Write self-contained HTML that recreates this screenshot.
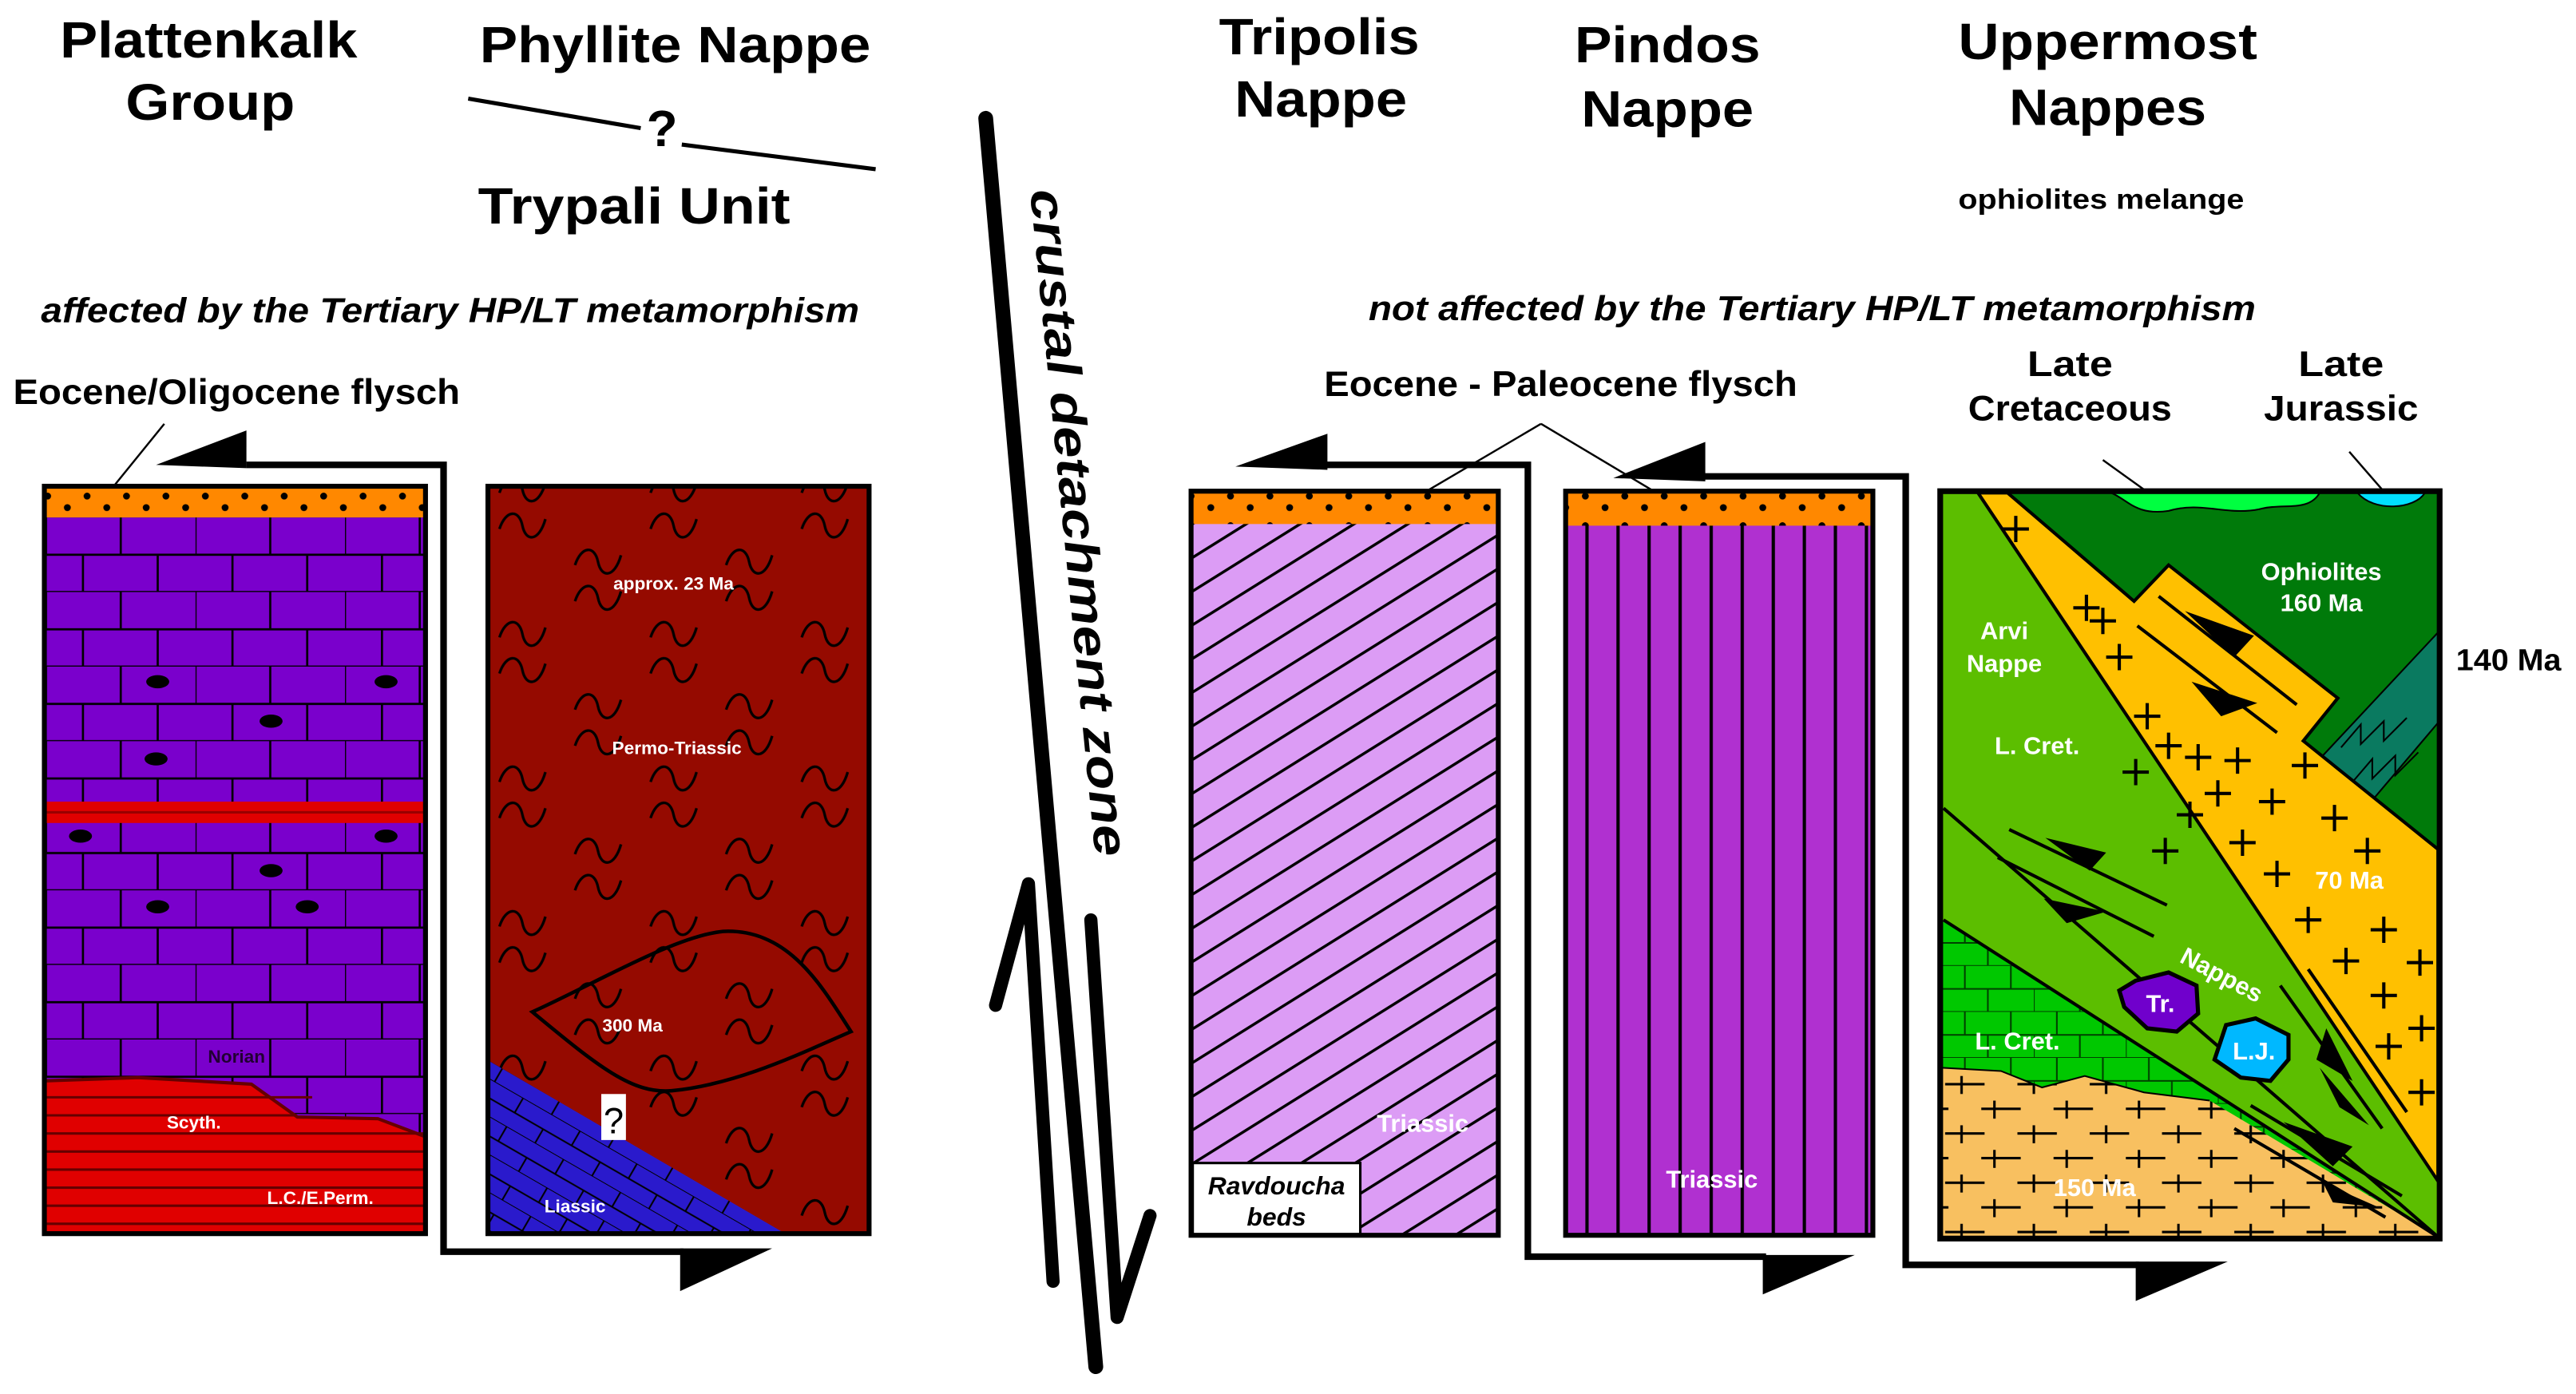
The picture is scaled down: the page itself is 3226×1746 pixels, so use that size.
<!DOCTYPE html>
<html><head><meta charset="utf-8"><style>html,body{margin:0;padding:0;background:#fff}svg{display:block}</style></head>
<body>
<svg width="3226" height="1746" viewBox="0 0 1568 848.6" xmlns="http://www.w3.org/2000/svg" font-family="Liberation Sans, sans-serif">
<defs>
<pattern id="dots" width="24" height="18" patternUnits="userSpaceOnUse" x="0" y="297">
<rect width="24" height="18" fill="#ff8800"/>
<circle cx="5" cy="5" r="2.1" fill="#000"/><circle cx="17" cy="12" r="2.1" fill="#000"/>
</pattern>
<pattern id="brick" width="91" height="45.4" patternUnits="userSpaceOnUse" x="28" y="315">
<rect width="91" height="45.4" fill="#7a00cc"/>
<path d="M0 22.7H91M0 45.4H91M45.5 0V22.7M0 0V22.7M68 22.7V45.4M22.5 22.7V45.4" stroke="#000" stroke-width="1.3"/>
</pattern>
<pattern id="gbrick" width="56" height="28" patternUnits="userSpaceOnUse" x="1182" y="560">
<rect width="56" height="28" fill="#00c800"/>
<path d="M0 14H56M0 28H56M14 0V14M42 0V14M28 14V28M0 14V28" stroke="#004000" stroke-width="1"/>
</pattern>
<pattern id="bbrick" width="40" height="20" patternUnits="userSpaceOnUse" patternTransform="rotate(30)">
<rect width="40" height="20" fill="#2a1acc"/>
<path d="M0 10H40M0 20H40M10 0V10M30 10V20" stroke="#000" stroke-width="1"/>
</pattern>
<pattern id="tilde" width="92" height="88" patternUnits="userSpaceOnUse" x="300" y="300">
<rect width="92" height="88" fill="#950a00"/>
<path d="M4 22 C8 10,16 10,18 20 S28 30,32 16" fill="none" stroke="#000" stroke-width="1.6"/>
<path d="M50 66 C54 54,62 54,64 64 S74 74,78 60" fill="none" stroke="#000" stroke-width="1.6"/>
</pattern>
<pattern id="tilde2" width="92" height="88" patternUnits="userSpaceOnUse" x="346" y="322">
<path d="M4 22 C8 10,16 10,18 20 S28 30,32 16" fill="none" stroke="#000" stroke-width="1.6"/>
<path d="M50 66 C54 54,62 54,64 64 S74 74,78 60" fill="none" stroke="#000" stroke-width="1.6"/>
</pattern>
<pattern id="hatch" width="20" height="20.5" patternUnits="userSpaceOnUse" patternTransform="skewY(-32)" x="726" y="300">
<rect width="20" height="20.5" fill="#dc9cf5"/>
<path d="M0 1H20" stroke="#000" stroke-width="2"/>
</pattern>
<pattern id="vlines" width="18.9" height="20" patternUnits="userSpaceOnUse" x="955" y="0">
<rect width="18.9" height="20" fill="#b030d0"/>
<path d="M11 0V20" stroke="#000" stroke-width="2"/>
</pattern>
<pattern id="tanplus" width="44" height="30" patternUnits="userSpaceOnUse" x="1182" y="652">
<rect width="44" height="30" fill="#f8c060"/>
<path d="M2 8H26M12 3V14M24 23H44M32 18V29M0 23H4" stroke="#000" stroke-width="1.5"/>
</pattern>
</defs>

<g font-weight="bold" font-size="31" text-anchor="middle" fill="#000" lengthAdjust="spacingAndGlyphs">
<text x="127" y="35" textLength="181" lengthAdjust="spacingAndGlyphs">Plattenkalk</text>
<text x="128" y="73" textLength="103" lengthAdjust="spacingAndGlyphs">Group</text>
<text x="411" y="38" textLength="238" lengthAdjust="spacingAndGlyphs">Phyllite Nappe</text>
<text x="386" y="136" textLength="190" lengthAdjust="spacingAndGlyphs">Trypali Unit</text>
<text x="403" y="89">?</text>
<text x="803" y="33" textLength="122" lengthAdjust="spacingAndGlyphs">Tripolis</text>
<text x="804" y="71" textLength="105" lengthAdjust="spacingAndGlyphs">Nappe</text>
<text x="1015" y="38" textLength="113" lengthAdjust="spacingAndGlyphs">Pindos</text>
<text x="1015" y="77" textLength="105" lengthAdjust="spacingAndGlyphs">Nappe</text>
<text x="1283" y="36" textLength="182" lengthAdjust="spacingAndGlyphs">Uppermost</text>
<text x="1283" y="76" textLength="120" lengthAdjust="spacingAndGlyphs">Nappes</text>
</g>
<path d="M285 60 L390 78 M415 88 L533 103" stroke="#000" stroke-width="2.5"/>
<g font-weight="bold" font-style="italic" font-size="21" text-anchor="middle">
<text x="274" y="196" textLength="498" lengthAdjust="spacingAndGlyphs">affected by the Tertiary HP/LT metamorphism</text>
<text x="1103" y="195" textLength="540" lengthAdjust="spacingAndGlyphs">not affected by the Tertiary HP/LT metamorphism</text>
</g>
<g font-weight="bold" font-size="21.5" text-anchor="middle">
<text x="144" y="246" textLength="272" lengthAdjust="spacingAndGlyphs">Eocene/Oligocene flysch</text>
<text x="950" y="241" textLength="288" lengthAdjust="spacingAndGlyphs">Eocene - Paleocene flysch</text>
<text x="1260" y="229" textLength="52" lengthAdjust="spacingAndGlyphs">Late</text><text x="1260" y="256" textLength="124" lengthAdjust="spacingAndGlyphs">Cretaceous</text>
<text x="1425" y="229" textLength="52" lengthAdjust="spacingAndGlyphs">Late</text><text x="1425" y="256" textLength="94" lengthAdjust="spacingAndGlyphs">Jurassic</text>
</g>
<text x="1279" y="127" font-weight="bold" font-size="17" text-anchor="middle" textLength="174" lengthAdjust="spacingAndGlyphs">ophiolites melange</text>
<text x="1527" y="408" font-weight="bold" font-size="18.5" text-anchor="middle" textLength="64" lengthAdjust="spacingAndGlyphs">140 Ma</text>
<path d="M100 258 L70 295 M938 258 L870 298 M938 258 L1005 298 M1280 280 L1305 298 M1430 275 L1450 298" stroke="#000" stroke-width="1.2" fill="none"/>

<path d="M150 283 H270 V762 H416" stroke="#000" stroke-width="4" fill="none"/>
<polygon points="95,283 150,262 150,285" fill="#000"/>
<polygon points="414,760 470,760 414,786" fill="#000"/>

<rect x="27" y="296" width="232" height="455" fill="url(#brick)"/>
<rect x="27" y="296" width="232" height="19" fill="url(#dots)"/>
<rect x="27" y="488" width="232" height="13" fill="#e00000"/>
<path d="M27 494.5H259" stroke="#900" stroke-width="1.5"/>
<polygon points="27,658 84,656 153,660 181,680 230,681 259,692 259,751 27,751" fill="#e00000"/>
<polyline points="27,658 84,656 153,660 181,680 230,681 259,692" fill="none" stroke="#600" stroke-width="2"/>
<g stroke="#600" stroke-width="1.5">
<path d="M27 668H190 M27 679H180 M27 690H259 M27 701H259 M27 712H259 M27 723H259 M27 734H259 M27 745H259"/>
</g>
<g fill="#000">
<ellipse cx="96" cy="415" rx="7" ry="4"/><ellipse cx="235" cy="415" rx="7" ry="4"/>
<ellipse cx="165" cy="439" rx="7" ry="4"/><ellipse cx="95" cy="462" rx="7" ry="4"/>
<ellipse cx="49" cy="509" rx="7" ry="4"/><ellipse cx="235" cy="509" rx="7" ry="4"/>
<ellipse cx="165" cy="530" rx="7" ry="4"/><ellipse cx="96" cy="552" rx="7" ry="4"/>
<ellipse cx="187" cy="552" rx="7" ry="4"/>
</g>
<rect x="27" y="296" width="232" height="455" fill="none" stroke="#000" stroke-width="3"/>
<g font-weight="bold" font-size="11" text-anchor="middle">
<text x="144" y="647" fill="#220033">Norian</text>
<text x="118" y="687" fill="#fff">Scyth.</text>
<text x="195" y="733" fill="#fff">L.C./E.Perm.</text>
</g>

<rect x="297" y="296" width="232" height="455" fill="url(#tilde)"/>
<rect x="297" y="296" width="232" height="455" fill="url(#tilde2)"/>
<polygon points="298,646 478,751 298,751" fill="url(#bbrick)"/>
<path d="M324 616 C360 600,410 570,440 567 C480 565,500 600,518 628 C490 640,450 660,409 664 C385 666,365 650,324 616Z" fill="none" stroke="#000" stroke-width="2.2"/>
<rect x="366" y="666" width="15" height="28" fill="#fff"/>
<text x="373.5" y="690" font-size="22" text-anchor="middle">?</text>
<rect x="297" y="296" width="232" height="455" fill="none" stroke="#000" stroke-width="3"/>
<g font-weight="bold" font-size="11" text-anchor="middle" fill="#fff">
<text x="410" y="359">approx. 23 Ma</text>
<text x="412" y="459">Permo-Triassic</text>
<text x="385" y="628">300 Ma</text>
<text x="350" y="738">Liassic</text>
</g>

<path d="M600 72 L667 832" stroke="#000" stroke-width="9" stroke-linecap="round"/>
<path d="M641 780 L626 538 L606 612" stroke="#000" stroke-width="8" fill="none" stroke-linejoin="round" stroke-linecap="round"/>
<path d="M664 560 L680 802 L700 740" stroke="#000" stroke-width="8" fill="none" stroke-linejoin="round" stroke-linecap="round"/>
<text transform="translate(627,116) rotate(84.4)" font-weight="bold" font-style="italic" font-size="29" textLength="408" lengthAdjust="spacingAndGlyphs">crustal detachment zone</text>

<path d="M806 283 H930 V765 H1075" stroke="#000" stroke-width="4" fill="none"/>
<polygon points="752,284 808,264 808,286" fill="#000"/>
<polygon points="1073,764 1129,764 1073,788" fill="#000"/>
<path d="M1035 290 H1160 V770 H1302" stroke="#000" stroke-width="4" fill="none"/>
<polygon points="982,291 1038,269 1038,293" fill="#000"/>
<polygon points="1300,768 1356,768 1300,792" fill="#000"/>

<rect x="725" y="299" width="187" height="453" fill="url(#hatch)"/>
<rect x="725" y="299" width="187" height="20" fill="url(#dots)"/>
<rect x="726" y="708" width="102" height="44" fill="#fff" stroke="#000" stroke-width="1.5"/>
<rect x="725" y="299" width="187" height="453" fill="none" stroke="#000" stroke-width="3"/>
<g font-weight="bold" font-style="italic" font-size="15.5" text-anchor="middle">
<text x="777" y="727">Ravdoucha</text><text x="777" y="746">beds</text>
</g>
<text x="866" y="689" font-weight="bold" font-size="15" fill="#fff" text-anchor="middle">Triassic</text>

<rect x="953" y="299" width="187" height="453" fill="url(#vlines)"/>
<rect x="953" y="299" width="187" height="21" fill="url(#dots)"/>
<rect x="953" y="299" width="187" height="453" fill="none" stroke="#000" stroke-width="3"/>
<text x="1042" y="723" font-weight="bold" font-size="15" fill="#fff" text-anchor="middle">Triassic</text>

<rect x="1181" y="299" width="304" height="455" fill="#5cbe00"/>
<polygon points="1222,300 1484,300 1484,517 1402,451 1423,425 1320,344 1299,366" fill="#007a0a"/>
<polygon points="1412,462 1484,385 1484,440 1445,486" fill="#0a7a60" stroke="#000" stroke-width="1"/>
<path d="M1425 455 l12 -14 l0 12 l14 -14 l0 12 l14 -14 M1432 476 l12 -14 l0 12 l14 -14 l0 12 l14 -14" stroke="#000" stroke-width="1" fill="none"/>
<path d="M1285 300 H1412 C1405 312,1390 306,1375 310 C1355 314,1340 305,1320 311 C1300 314,1295 304,1285 300Z" fill="#00ff40" stroke="#000" stroke-width="1"/>
<path d="M1435 300 H1476 C1470 310,1445 312,1435 300Z" fill="#00e0ff" stroke="#000" stroke-width="1"/>
<polygon points="1204,300 1222,300 1299,366 1320,344 1423,425 1402,451 1484,517 1484,719" fill="#ffc000" stroke="#000" stroke-width="2"/>
<polygon points="1182,560 1484,753 1182,753" fill="url(#gbrick)"/>
<polygon points="1182,650 1218,652 1243,662 1269,655 1305,665 1345,670 1484,753 1182,753" fill="url(#tanplus)"/>
<polyline points="1182,650 1218,652 1243,662 1269,655 1305,665 1345,670" fill="none" stroke="#000" stroke-width="1"/>
<path d="M1183 492 L1484 753 M1183 560 L1484 753" stroke="#000" stroke-width="2"/>
<g stroke="#000" stroke-width="2" fill="none">
<path d="M1227 314v16m-8-8h16 M1270 362v16m-8-8h16 M1290 392v16m-8-8h16 M1307 428v16m-8-8h16 M1320 446v16m-8-8h16 M1300 462v16m-8-8h16 M1338 453v16m-8-8h16 M1350 475v16m-8-8h16 M1333 488v16m-8-8h16 M1362 455v16m-8-8h16 M1383 480v16m-8-8h16 M1403 458v16m-8-8h16 M1318 510v16m-8-8h16 M1365 505v16m-8-8h16 M1421 490v16m-8-8h16 M1386 524v16m-8-8h16 M1441 510v16m-8-8h16 M1405 552v16m-8-8h16 M1451 558v16m-8-8h16 M1428 577v16m-8-8h16 M1473 578v16m-8-8h16 M1451 598v16m-8-8h16 M1474 618v16m-8-8h16 M1454 629v16m-8-8h16 M1474 657v16m-8-8h16 M1280 370v16m-8-8h16"/>
</g>
<g stroke="#000" stroke-width="2">
<path d="M1314 363 L1398 429 M1301 381 L1386 446 M1223 505 L1319 551 M1216 522 L1311 570 M1388 600 L1450 687 M1405 590 L1465 677 M1370 673 L1462 728 M1360 687 L1452 741"/>
</g>
<g fill="#000">
<polygon points="1330,372 1372,387 1360,400"/>
<polygon points="1334,415 1374,428 1352,436"/>
<polygon points="1245,510 1282,519 1272,530"/>
<polygon points="1244,547 1282,555 1258,562"/>
<polygon points="1416,626 1432,658 1410,645"/>
<polygon points="1412,650 1442,685 1424,674"/>
<polygon points="1390,683 1432,698 1420,710"/>
<polygon points="1414,720 1448,735 1420,732"/>
</g>
<polygon points="1300,597 1320,592 1337,600 1338,617 1325,628 1307,626 1293,613 1290,603" fill="#7000cc" stroke="#000" stroke-width="2.5"/>
<polygon points="1355,624 1373,620 1393,630 1393,645 1382,658 1364,656 1348,645" fill="#00b8ff" stroke="#000" stroke-width="2.5"/>
<rect x="1181" y="299" width="304" height="455" fill="none" stroke="#000" stroke-width="3.5"/>
<g font-weight="bold" font-size="15" fill="#fff" text-anchor="middle">
<text x="1220" y="389">Arvi</text><text x="1220" y="409">Nappe</text>
<text x="1240" y="459">L. Cret.</text>
<text x="1413" y="353">Ophiolites</text><text x="1413" y="372">160 Ma</text>
<text x="1430" y="541">70 Ma</text>
<text x="1315" y="616">Tr.</text>
<text x="1372" y="645">L.J.</text>
<text x="1228" y="639">L. Cret.</text>
<text x="1275" y="728">150 Ma</text>
<text transform="translate(1350,598) rotate(28)">Nappes</text>
</g>
</svg>
</body></html>
